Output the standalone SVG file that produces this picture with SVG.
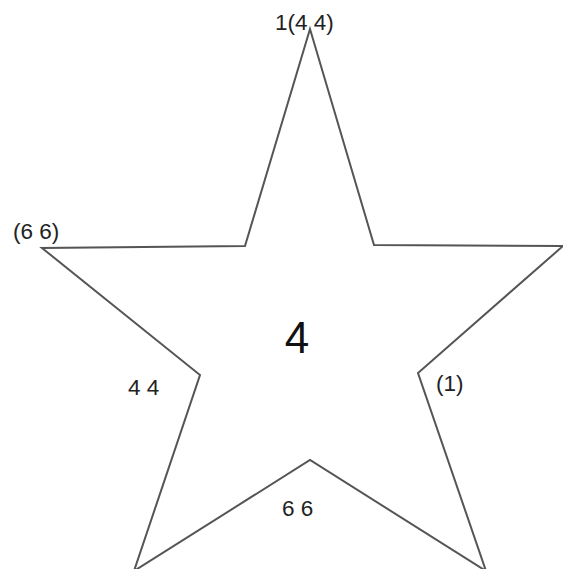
<svg xmlns="http://www.w3.org/2000/svg" width="563" height="569" viewBox="0 0 563 569">
<style>
.s{fill:#fff;stroke:#555;stroke-width:2;stroke-linejoin:miter}
.t{font-family:"Liberation Sans",Arial,sans-serif;font-size:22.5px;fill:#222}
.big{font-family:"Liberation Sans",Arial,sans-serif;font-size:44px;fill:#111}
</style>
<rect width="563" height="569" fill="#fff"/>
<g id="star">
<polygon class="s" points="310,29 374,245 563,246 418,373 486,571 310,460 134,571 200,375 42,248 245,246"/>
<text class="big" x="297" y="353" text-anchor="middle">4</text>
</g>
<g id="labels">
<text class="t" x="275" y="30">1(4 4)</text>
<text class="t" x="13" y="239">(6 6)</text>
<text class="t" x="436" y="391">(1)</text>
<text class="t" x="128" y="395">4 4</text>
<text class="t" x="282" y="516">6 6</text>
</g>
</svg>
